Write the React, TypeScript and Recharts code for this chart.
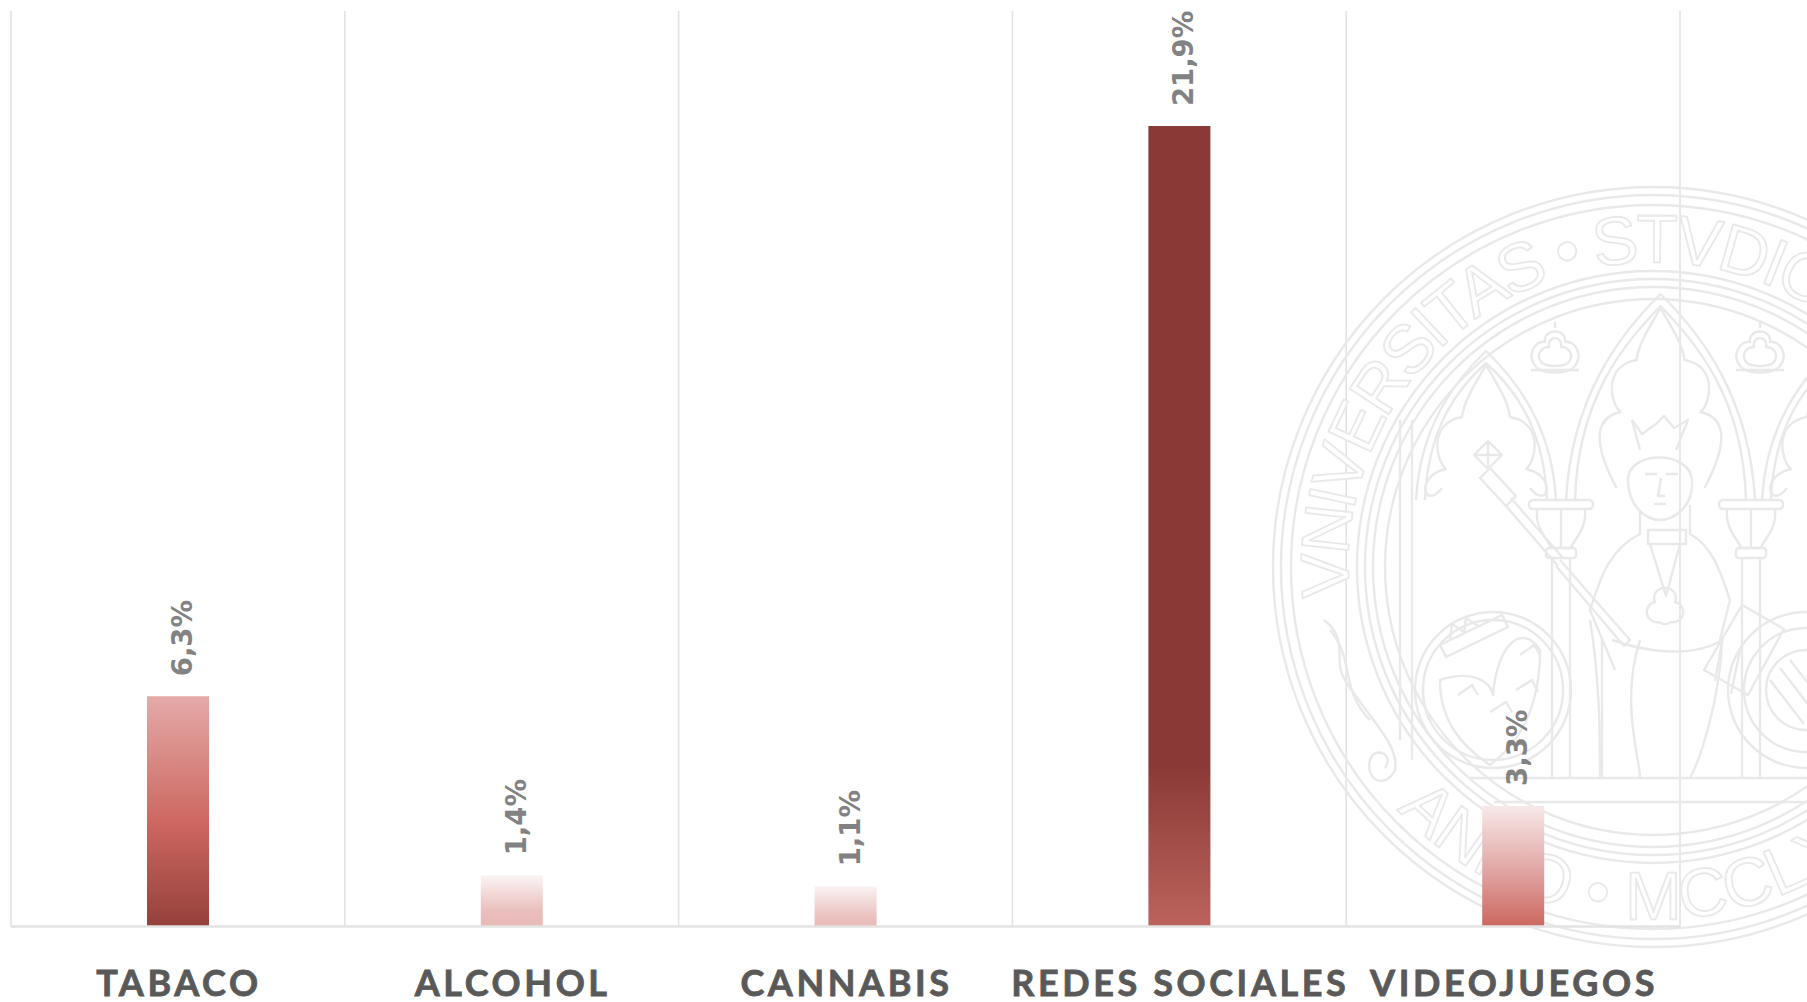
import React from "react";
import { BarChart, Bar, XAxis, YAxis, CartesianGrid, Cell, LabelList } from "recharts";

const categories = ["TABACO", "ALCOHOL", "CANNABIS", "REDES SOCIALES", "VIDEOJUEGOS"];
const values = [6.3, 1.4, 1.1, 21.9, 3.3];
const valueLabels = ["6,3%", "1,4%", "1,1%", "21,9%", "3,3%"];
const gradientStops: [string, string][][] = [
  [["0", "#e4aaa8"], ["0.55", "#cd6760"], ["1", "#95403b"]],
  [["0", "#fbf4f4"], ["0.7", "#e9bfbd"], ["1", "#e8b9b7"]],
  [["0", "#fbf4f4"], ["0.7", "#ebc4c2"], ["1", "#e8b9b7"]],
  [["0", "#8a3a36"], ["0.8", "#8a3a36"], ["1", "#bc635d"]],
  [["0", "#f7e9e9"], ["0.5", "#e2aaa8"], ["1", "#cd6760"]],
];
const data = categories.map((name, i) => ({ name, value: values[i], label: valueLabels[i] }));

const W = 1807;
const H = 1002;
const LINE = "#e9e9e9";

function Arch({ l, r, apex, foot }: { l: number; r: number; apex: number; foot: number }) {
  const m = (l + r) / 2;
  const w = r - l;
  const h = foot - apex;
  const d = `M${l} ${foot}C${l + w * 0.03} ${foot - h * 0.5} ${m - w * 0.22} ${apex + h * 0.2} ${m} ${apex}C${m + w * 0.22} ${apex + h * 0.2} ${r - w * 0.03} ${foot - h * 0.5} ${r} ${foot}`;
  const inner = `M${l + 9} ${foot}C${l + 12} ${foot - h * 0.5} ${m - w * 0.19} ${apex + h * 0.24} ${m} ${apex + 12}C${m + w * 0.19} ${apex + h * 0.24} ${r - 12} ${foot - h * 0.5} ${r - 9} ${foot}`;
  const cusp = `M${m} ${apex + 14}C${m - 12} ${apex + 35} ${m - 22} ${apex + 50} ${m - 24} ${apex + 66}C${m - 58} ${apex + 72} ${m - 50} ${apex + 110} ${m - 40} ${apex + 118}C${m - 72} ${apex + 125} ${m - 62} ${apex + 160} ${m - 44} ${foot - 12}M${m} ${apex + 14}C${m + 12} ${apex + 35} ${m + 22} ${apex + 50} ${m + 24} ${apex + 66}C${m + 58} ${apex + 72} ${m + 50} ${apex + 110} ${m + 40} ${apex + 118}C${m + 72} ${apex + 125} ${m + 62} ${apex + 160} ${m + 44} ${foot - 12}`;
  return (
    <g>
      <path d={d} />
      <path d={inner} />
      <path d={cusp} />
    </g>
  );
}

function Trefoil({ x, y }: { x: number; y: number }) {
  return (
    <g>
      <path d={`M${x - 18} ${y + 18}C${x - 30} ${y + 6} ${x - 20} ${y - 10} ${x - 10} ${y - 8}C${x - 12} ${y - 22} ${x + 12} ${y - 22} ${x + 10} ${y - 8}C${x + 20} ${y - 10} ${x + 30} ${y + 6} ${x + 18} ${y + 18}C${x + 10} ${y + 24} ${x - 10} ${y + 24} ${x - 18} ${y + 18}Z`} />
      <path d={`M${x - 13} ${y + 13}C${x - 20} ${y + 5} ${x - 14} ${y - 3} ${x - 6} ${y - 3}C${x - 8} ${y - 15} ${x + 8} ${y - 15} ${x + 6} ${y - 3}C${x + 14} ${y - 3} ${x + 20} ${y + 5} ${x + 13} ${y + 13}C${x + 7} ${y + 17} ${x - 7} ${y + 17} ${x - 13} ${y + 13}Z`} />
      <path d={`M${x - 24} ${y + 20}H${x + 24}M${x} ${y - 28}V${y - 22}`} />
    </g>
  );
}

function Column({ x }: { x: number }) {
  return (
    <g>
      <rect x={x - 32} y={500} width={64} height={9} rx={4} />
      <path d={`M${x - 24} 510C${x - 26} 530 ${x - 12} 540 ${x - 10} 548H${x + 10}C${x + 12} 540 ${x + 26} 530 ${x + 24} 510M${x} 510V548`} />
      <rect x={x - 15} y={548} width={30} height={10} rx={3} />
      <path d={`M${x - 9} 558V778M${x + 9} 558V778`} />
    </g>
  );
}

function Seal() {
  const cx = 1653;
  const cy = 567;
  const rings = [380, 372, 362, 296, 288, 280, 268];
  return (
    <g fill="none" stroke={LINE} strokeWidth={2.4} strokeLinejoin="round">
      <defs>
        <path id="seal-top" d={`M${cx - 303} ${cy + 30}A304.5 304.5 0 1 1 ${cx + 303} ${cy + 30}`} />
        <path id="seal-bottom" d={`M${cx - 290} ${cy + 200}A352 352 0 0 0 ${cx + 290} ${cy + 200}`} />
      </defs>
      {rings.map((r) => (
        <circle key={r} cx={cx} cy={cy} r={r} />
      ))}
      <text fontFamily="'Liberation Sans Narrow', 'Liberation Sans', sans-serif" fontSize={68} fill="#fff" stroke={LINE} strokeWidth={1.8} letterSpacing={-4}>
        <textPath href="#seal-top">VNIVERSITAS • STVDIORVM • MVRCIANA</textPath>
      </text>
      <text fontFamily="'Liberation Sans Narrow', 'Liberation Sans', sans-serif" fontSize={68} fill="#fff" stroke={LINE} strokeWidth={1.8} letterSpacing={0}>
        <textPath href="#seal-bottom" startOffset="8%">ANNO • MCCLXXII</textPath>
      </text>
      <Arch l={1416} r={1556} apex={351} foot={500} />
      <Arch l={1566} r={1755} apex={294} foot={500} />
      <Arch l={1762} r={1900} apex={351} foot={500} />
      <Trefoil x={1555} y={350} />
      <Trefoil x={1760} y={350} />
      <Column x={1561} />
      <Column x={1751} />
      <path d="M1400 420V740M1412 420V760" />
      <path d="M1470 778H1900M1494 802H1900" />
      {/* sceptre */}
      <path d="M1474 455l14 -14 14 14 -14 14zM1474 455l28 0M1488 441l0 28M1490 468l26 28 -10 10 -26 -28zM1511 498l52 60M1506 506l52 60M1560 560L1630 640l-6 6L1556 566" />
      {/* figure */}
      <path d="M1632 420l10 14 14 -10 8 -8 10 12 14 -8 -12 30M1632 420l8 30" />
      <path d="M1628 480C1628 450 1690 450 1692 480C1694 510 1670 520 1660 520C1645 520 1628 505 1628 480Z" />
      <path d="M1645 474h12M1666 474h12M1661 478l-3 18h7M1654 504h12" />
      <path d="M1640 510V534C1608 550 1600 580 1590 610L1615 670M1690 505V534C1712 546 1720 570 1730 600L1720 640M1648 530h38v14h-38zM1650 544l16 52 14 -52" />
      <path d="M1665 588a10 10 0 0 1 10 14a10 10 0 0 1 -4 20a10 10 0 0 1 -12 0a10 10 0 0 1 -4 -20a10 10 0 0 1 10 -14Z" />
      <path d="M1602 640V778M1704 670l38 -65 42 24 -36 66zM1723 637l-8 44M1740 650l-9 44" />
      <path d="M1612 640C1640 650 1690 660 1722 640C1720 700 1700 760 1690 778M1590 620C1600 680 1600 740 1600 778M1640 640C1620 700 1640 760 1640 778" />
      {/* shields */}
      <circle cx={1493} cy={690} r={78} />
      <circle cx={1493} cy={690} r={70} />
      <path d="M1440 680C1470 670 1490 680 1493 695C1496 650 1520 620 1540 650C1540 720 1510 750 1490 765C1460 745 1440 720 1440 680Z" />
      <path d="M1440 645l62 -30 6 12 -62 30zM1450 640l2 -16 12 8 2 -14 12 8" />
      <path d="M1520 655l14 -10 6 10M1516 690l16 -10 6 12M1490 712l16 -10 6 10M1458 695l14 -10 6 10" />
      <circle cx={1806} cy={690} r={78} />
      <circle cx={1806} cy={690} r={62} />
      <circle cx={1806} cy={690} r={40} />
      <path d="M1780 668l34 44M1790 660l34 44M1770 680l34 44" />
      {/* scrolls */}
      <path d="M1324 620C1350 640 1332 660 1345 680C1370 720 1400 745 1395 770C1385 790 1365 780 1370 760C1375 745 1395 755 1385 768M1330 630C1355 660 1340 690 1370 720" />
    </g>
  );
}

const ValueLabel = (props: any) => {
  const { x, y, width, index } = props;
  return (
    <text
      transform={`translate(${x + width / 2 + 4} ${y - 20}) rotate(-90)`}
      textAnchor="start"
      dominantBaseline="central"
      fontFamily="'DejaVu Sans', sans-serif"
      fontWeight={700}
      fontSize={27.5}
      fill="#828282"
    >
      {valueLabels[index]}
    </text>
  );
};

const CategoryTick = (props: any) => {
  const { x, y, payload } = props;
  return (
    <text
      x={x + 1}
      y={y + 61}
      textAnchor="middle"
      fontFamily="Lato, sans-serif"
      fontWeight={700}
      fontSize={36}
      letterSpacing={3.6}
      fill="#595959"
      stroke="#595959"
      strokeWidth={0.8}
    >
      {payload.value}
    </text>
  );
};

export default function App() {
  return (
    <div style={{ position: "absolute", left: 0, top: 0, width: W, height: H, background: "#fff", overflow: "hidden" }}>
      <BarChart width={W} height={H} data={data} margin={{ top: 11, right: 127, bottom: 0, left: 11 }} barCategoryGap={0}>
        <defs>
          {gradientStops.map((stops, i) => (
            <linearGradient key={i} id={`bar-${i}`} x1="0" y1="0" x2="0" y2="1">
              {stops.map(([o, c]) => (
                <stop key={o} offset={o} stopColor={c} />
              ))}
            </linearGradient>
          ))}
        </defs>
        <Seal />
        <CartesianGrid
          horizontal={false}
          stroke="#e3e3e3"
          strokeWidth={1.6}
          verticalCoordinatesGenerator={({ offset }: any) =>
            [0, ...categories.map((_, i) => i + 1)].map((i) => offset.left + (i * offset.width) / categories.length)
          }
        />
        <XAxis
          dataKey="name"
          interval={0}
          height={75.5}
          tickLine={false}
          axisLine={{ stroke: "#e3e3e3", strokeWidth: 2.4 }}
          tick={<CategoryTick />}
        />
        <YAxis hide domain={[0, 25.05]} />
        <Bar dataKey="value" barSize={62} isAnimationActive={false}>
          {data.map((d, i) => (
            <Cell key={d.name} fill={`url(#bar-${i})`} />
          ))}
          <LabelList dataKey="label" content={<ValueLabel />} />
        </Bar>
      </BarChart>
    </div>
  );
}
